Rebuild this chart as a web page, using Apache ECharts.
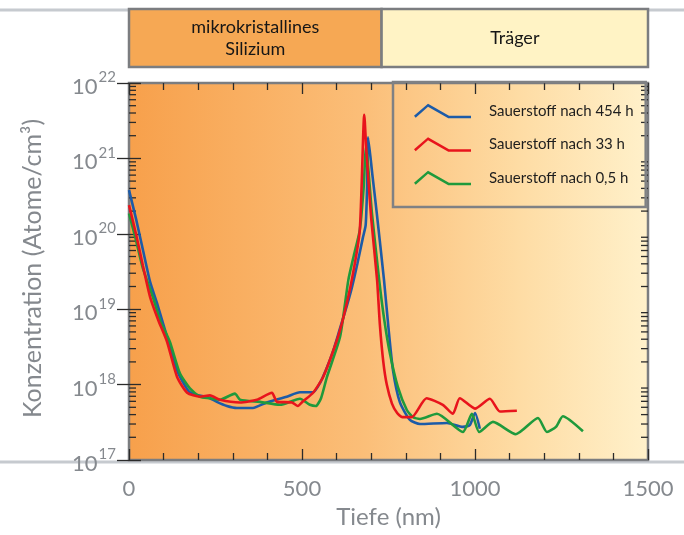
<!DOCTYPE html>
<html><head><meta charset="utf-8">
<script src="https://cdn.jsdelivr.net/npm/echarts@6/dist/echarts.min.js"></script>
<style>html,body{margin:0;padding:0;background:#fff}#c{width:684px;height:535px}</style>
</head><body><div id="c"></div>
<script>
// ---- data (depth in nm, concentration in atoms/cm^3) ----
const seriesNames = ['Sauerstoff nach 454 h', 'Sauerstoff nach 33 h', 'Sauerstoff nach 0,5 h'];
const xTickLabels = ['0', '500', '1000', '1500'];
const yTickExponents = ['17', '18', '19', '20', '21', '22'];
const layerNames = ['mikrokristallines\nSilizium', 'Träger'];
const layerBoundaryNm = 730;

const depth454 = [0, 20, 40, 61, 81, 110, 139, 160, 176, 200, 225, 254, 283, 312, 358, 398, 456, 494, 532, 552, 570, 590, 610, 630, 645, 660, 676, 684, 688, 691, 703, 716, 737, 750, 763, 783, 812, 841, 919, 965, 985, 1000, 1014];
const conc454 = [3.8e20, 1.6e20, 6.2e19, 2.3e19, 1.2e19, 4.3e18, 1.55e18, 1.0e18, 7.9e17, 7.2e17, 6.9e17, 5.9e17, 5.2e17, 4.9e17, 4.9e17, 5.8e17, 6.9e17, 7.9e17, 7.9e17, 1.05e18, 1.6e18, 2.8e18, 5.6e18, 1.12e19, 2.0e19, 4.0e19, 8.9e19, 1.3e20, 4.0e20, 1.9e21, 6.3e20, 1.9e20, 2.45e19, 5.6e18, 1.55e18, 5.8e17, 3.4e17, 3.0e17, 3.1e17, 2.75e17, 2.9e17, 4.2e17, 2.6e17];

const depth33 = [0, 20, 40, 61, 85, 110, 139, 168, 205, 234, 263, 321, 370, 413, 428, 471, 488, 503, 532, 561, 601, 620, 644, 667, 680, 686, 700, 717, 725, 735, 745, 760, 775, 790, 817, 860, 907, 936, 956, 1000, 1043, 1072, 1121];
const conc33 = [2.4e20, 1.0e20, 3.8e19, 1.45e19, 7.1e18, 3.7e18, 1.26e18, 7.8e17, 6.9e17, 7.2e17, 6.3e17, 5.8e17, 6.3e17, 7.8e17, 5.9e17, 5.8e17, 5.2e17, 6.0e17, 7.8e17, 1.26e18, 3.9e18, 7.9e18, 2.45e19, 1.12e20, 3.8e21, 1.26e21, 1.6e20, 2.45e19, 6.3e18, 2.0e18, 1.0e18, 5.6e17, 4.2e17, 3.7e17, 3.7e17, 6.6e17, 5.4e17, 4.1e17, 6.6e17, 4.8e17, 6.5e17, 4.4e17, 4.5e17];

const depth05 = [0, 20, 40, 69, 90, 118, 147, 176, 205, 234, 263, 306, 321, 379, 436, 494, 523, 540, 555, 572, 610, 634, 650, 667, 678, 685, 702, 723, 738, 754, 777, 803, 821, 841, 890, 965, 991, 1012, 1052, 1118, 1182, 1208, 1234, 1254, 1312];
const conc05 = [1.86e20, 8.3e19, 3.5e19, 1.45e19, 7.1e18, 3.7e18, 1.41e18, 8.9e17, 6.9e17, 6.6e17, 6.3e17, 7.6e17, 6.3e17, 5.9e17, 5.4e17, 6.5e17, 5.4e17, 5.2e17, 6.6e17, 1.26e18, 4.3e18, 2.45e19, 5.2e19, 1.12e20, 4.0e20, 1.41e21, 1.9e20, 2.45e19, 7.1e18, 2.6e18, 9.3e17, 4.6e17, 3.7e17, 3.5e17, 4.1e17, 2.35e17, 4.1e17, 2.35e17, 3.2e17, 2.2e17, 3.6e17, 2.35e17, 2.75e17, 3.8e17, 2.4e17];

const minorMultipliers = [2, 3, 4, 5, 6, 7, 8, 9];
const decades = [17, 18, 19, 20, 21];

// ---- helpers ----
const zip = (xs, ys) => xs.map((x, i) => [x, ys[i]]);
const FONT = 'Lato, "Open Sans", sans-serif';
const GREY = '#85898e';
const minorTickData = [];
decades.forEach(d => minorMultipliers.forEach(m => minorTickData.push([0, m * Math.pow(10, d)])));

const chart = echarts.init(document.getElementById('c'), null, {renderer: 'canvas'});
const iconPath = 'path://M0,12 L14,0 L35,12 L57,12 L57,14.6 L34.3,14.6 L14,3.1 L1.7,14 Z';

const xAxisBase = {
  type: 'value', min: 0, max: 1500, interval: 500,
  axisLine: {show: false},
  splitLine: {show: false},
  axisTick: {show: true, inside: true, length: 11, lineStyle: {color: '#2b2b2b', width: 1.3}},
  minorTick: {show: true, splitNumber: 5, length: 7, lineStyle: {color: '#2b2b2b', width: 1.3}},
};
const yAxisBase = {
  type: 'log', logBase: 10, min: 1e17, max: 1e22,
  axisLine: {show: false},
  splitLine: {show: false},
  axisTick: {show: true, inside: true, length: 12, lineStyle: {color: '#2b2b2b', width: 1.3}},
};
const lineBase = {type: 'line', showSymbol: false, symbol: 'none', smooth: 0.2};

const option = {
  animation: false,
  textStyle: {fontFamily: FONT},
  grid: {
    left: 129, right: 36, top: 83, bottom: 75, show: true,
    borderColor: '#7b7d80', borderWidth: 2.5,
    backgroundColor: {type: 'linear', x: 0, y: 0, x2: 1, y2: 0, colorStops: [
      {offset: 0, color: '#F7A04B'}, {offset: 0.45, color: '#FBBE78'}, {offset: 0.75, color: '#FEDCA4'}, {offset: 1, color: '#FFF1CB'}]}
  },
  legend: {
    orient: 'vertical', left: 393, top: 82,
    data: seriesNames,
    icon: iconPath,
    itemWidth: 57, itemHeight: 15, itemGap: 15.5,
    padding: [20, 12, 20, 21],
    borderColor: '#7f8184', borderWidth: 2.5,
    textStyle: {fontSize: 15, color: '#1e1e1e', fontFamily: FONT, padding: [0, 0, 0, 13], lineHeight: 18},
    selectedMode: false
  },
  xAxis: [
    Object.assign({}, xAxisBase, {
      position: 'bottom',
      name: 'Tiefe (nm)', nameLocation: 'middle', nameGap: 44,
      nameTextStyle: {fontSize: 24, color: GREY, fontFamily: FONT},
      axisLabel: {margin: 18, fontSize: 22, color: GREY, fontFamily: FONT,
        formatter: (v) => xTickLabels[Math.round(v / 500)]}
    }),
    Object.assign({}, xAxisBase, {position: 'top', axisLabel: {show: false}})
  ],
  yAxis: [
    Object.assign({}, yAxisBase, {
      position: 'left',
      name: 'Konzentration (Atome/cm³)', nameLocation: 'middle', nameGap: 84, nameRotate: 90,
      nameTextStyle: {fontSize: 25, color: GREY, fontFamily: FONT, padding: [0, 0, 0, 6]},
      axisLabel: {
        margin: 13, color: GREY,
        formatter: (v) => '{b|10}{s|' + yTickExponents[Math.round(Math.log10(v)) - 17] + '}',
        rich: {
          b: {fontSize: 22, color: GREY, fontFamily: FONT, padding: [8, 0, 0, 0]},
          s: {fontSize: 15, color: GREY, fontFamily: FONT, padding: [0, 0, 11, 1]}
        }
      }
    }),
    Object.assign({}, yAxisBase, {position: 'right', axisLabel: {show: false}})
  ],
  series: [
    {
      type: 'custom', name: 'minorTicks', silent: true, z: 1,
      xAxisIndex: 0, yAxisIndex: 0,
      data: minorTickData,
      renderItem: function (params, api) {
        const cs = params.coordSys;
        const y = api.coord([0, api.value(1)])[1];
        const st = {stroke: '#2b2b2b', lineWidth: 1.3};
        return {type: 'group', children: [
          {type: 'line', shape: {x1: cs.x, y1: y, x2: cs.x + 7, y2: y}, style: st},
          {type: 'line', shape: {x1: cs.x + cs.width, y1: y, x2: cs.x + cs.width - 7, y2: y}, style: st}
        ]};
      }
    },
    Object.assign({}, lineBase, {name: seriesNames[0], data: zip(depth454, conc454),
      color: '#1C5BA8', lineStyle: {width: 2.6, color: '#1C5BA8'}, z: 3}),
    Object.assign({}, lineBase, {name: seriesNames[2], data: zip(depth05, conc05),
      color: '#1F9A3C', lineStyle: {width: 2.6, color: '#1F9A3C'}, z: 4}),
    Object.assign({}, lineBase, {name: seriesNames[1], data: zip(depth33, conc33),
      color: '#E8141C', lineStyle: {width: 2.6, color: '#E8141C'}, z: 5})
  ]
};
chart.setOption(option);

// header boxes positioned from the axis scale
const p0 = chart.convertToPixel({xAxisIndex: 0}, 0);
const pB = chart.convertToPixel({xAxisIndex: 0}, layerBoundaryNm);
const p1 = chart.convertToPixel({xAxisIndex: 0}, 1500);
const boxTop = 9, boxH = 58;
chart.setOption({
  graphic: [
    {type: 'line', shape: {x1: 0, y1: 10, x2: 684, y2: 10}, style: {stroke: '#C6CACF', lineWidth: 3}, z: 0, silent: true},
    {type: 'line', shape: {x1: 0, y1: 462, x2: 684, y2: 462}, style: {stroke: '#C6CACF', lineWidth: 3}, z: -1, silent: true},
    {type: 'rect', shape: {x: p0, y: boxTop, width: pB - p0, height: boxH},
      style: {fill: '#F6A854', stroke: '#7b7d80', lineWidth: 2.5}, z: 10, silent: true},
    {type: 'rect', shape: {x: pB, y: boxTop, width: p1 - pB, height: boxH},
      style: {fill: '#FFF3C5', stroke: '#7b7d80', lineWidth: 2.5}, z: 10, silent: true},
    {type: 'text', x: (p0 + pB) / 2, y: boxTop + boxH / 2, z: 11, silent: true,
      style: {text: layerNames[0], fill: '#161616', font: '18px ' + FONT, align: 'center', verticalAlign: 'middle', lineHeight: 22}},
    {type: 'text', x: (pB + p1) / 2, y: boxTop + boxH / 2, z: 11, silent: true,
      style: {text: layerNames[1], fill: '#161616', font: '18px ' + FONT, align: 'center', verticalAlign: 'middle'}}
  ]
});
</script></body></html>
